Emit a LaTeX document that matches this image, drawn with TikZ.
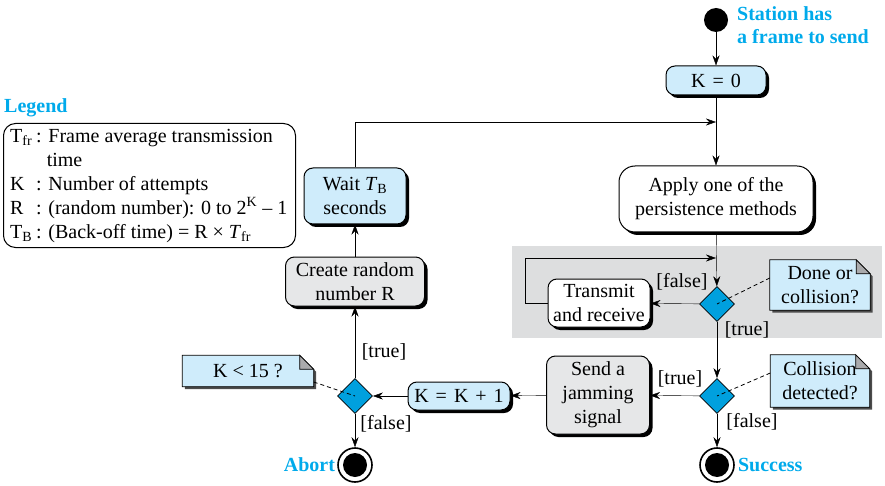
\documentclass[tikz,border=0pt]{standalone}
\usepackage{fontspec}
\setmainfont{Liberation Serif}
\usetikzlibrary{shapes.geometric,shadows,arrows.meta}
\definecolor{cyantext}{RGB}{0,170,235}
\definecolor{lightblue}{RGB}{207,236,251}
\definecolor{boxgrey}{RGB}{230,231,232}
\definecolor{regiongrey}{RGB}{221,222,223}
\definecolor{diamondblue}{RGB}{0,160,222}
\definecolor{foldgrey}{RGB}{170,170,172}
\pgfdeclarelayer{back}
\pgfdeclarelayer{mid}
\pgfsetlayers{back,mid,main}
\newcommand\mynote[1]{%
  \fill[black!70] ([xshift=2.5pt,yshift=-2.5pt]#1.south west) -- ([xshift=2.5pt,yshift=-2.5pt]#1.north west) -- ([xshift=-11.5pt,yshift=-2.5pt]#1.north east) -- ([xshift=2.5pt,yshift=-16.5pt]#1.north east) -- ([xshift=2.5pt,yshift=-2.5pt]#1.south east) -- cycle;
  \draw[fill=lightblue,line width=0.8pt] (#1.south west) -- (#1.north west) -- ([xshift=-14pt]#1.north east) -- ([yshift=-14pt]#1.north east) -- (#1.south east) -- cycle;
  \draw[fill=foldgrey,line width=0.8pt] ([xshift=-14pt]#1.north east) -- ([xshift=-14pt,yshift=-14pt]#1.north east) -- ([yshift=-14pt]#1.north east) -- cycle;
}
\newcommand\opsp{\kern2pt}
\begin{document}
\begin{tikzpicture}[x=1pt,y=-1pt,
  font=\fontsize{20}{24}\selectfont,
  line width=1.1pt,
  >={Stealth[length=10pt,width=7pt]},
  box/.style={draw, line width=1pt, rounded corners=9pt, align=center, inner sep=0pt,
    drop shadow={shadow xshift=3pt,shadow yshift=-3pt,opacity=1,fill=black}},
  bluebox/.style={box, fill=lightblue},
  greybox/.style={box, fill=boxgrey},
  whitebox/.style={box, fill=white},
  decision/.style={diamond, draw, line width=0.8pt, fill=diamondblue, minimum width=35pt, minimum height=35pt, inner sep=0pt},
  notetext/.style={align=center, inner sep=0pt},
  lbl/.style={inner sep=0pt},
  title/.style={font=\fontsize{20}{23}\selectfont\bfseries, text=cyantext, inner sep=0pt, align=left},
  finalring/.style={circle, draw, line width=1.6pt, minimum size=34pt, inner sep=0pt, fill=white},
  notelink/.style={dashed, line width=0.8pt, dash pattern=on 4pt off 3pt}]
\useasboundingbox (0,0) rectangle (885,486);

\begin{pgfonlayer}{back}
  \fill[regiongrey] (512,246) rectangle (882,338);
\end{pgfonlayer}

% start
\node[circle, fill=black, minimum size=24pt, inner sep=0pt] (start) at (716,20) {};
\node[title, anchor=west] (stlabel) at (737,25) {Station has\\a frame to send};

% boxes
\node[bluebox, minimum width=100pt, minimum height=29pt] (k0) at (716,80.5) {K\opsp{} =\opsp{} 0};
\node[whitebox, rounded corners=16pt, minimum width=194pt, minimum height=66pt] (apply) at (716,199) {Apply one of the\\persistence methods};
\node[whitebox, minimum width=102pt, minimum height=48pt] (transmit) at (599,303) {Transmit\\and receive};
\node[greybox, minimum width=103pt, minimum height=78pt] (jam) at (598,395) {Send a\\jamming\\signal};
\node[bluebox, minimum width=102pt, minimum height=28pt] (kk1) at (459,396) {K\opsp{} =\opsp{} K\opsp{} +\opsp{} 1};
\node[greybox, minimum width=139pt, minimum height=49pt] (create) at (355,281.5) {Create random\\number R};
\node[bluebox, minimum width=102pt, minimum height=56pt] (wait) at (355,196) {Wait \textit{T}\textsubscript{B}\\seconds};

% decisions
\node[decision] (d1) at (717,304) {};
\node[decision] (d2) at (717,396) {};
\node[decision] (d3) at (355,396) {};

% final states
\node[finalring] (success) at (717,465) {};
\fill (success.center) circle (12);
\node[finalring] (abort) at (355,465) {};
\fill (abort.center) circle (12);
\node[title, anchor=west] (successlbl) at ([xshift=3pt]success.east) {Success};
\node[title, anchor=east] (abortlbl) at ([xshift=-2pt]abort.west) {Abort};

% notes
\node[notetext, minimum width=100pt, minimum height=50pt] (n1) at (820,285) {Done or\\collision?};
\node[notetext, minimum width=99pt, minimum height=52pt] (n2) at (820,381) {Collision\\detected?};
\node[notetext, minimum width=131pt, minimum height=31pt] (n3) at (248,371) {K < 15 ?};
\begin{pgfonlayer}{mid}
  \mynote{n1}
  \mynote{n2}
  \mynote{n3}
\end{pgfonlayer}
\draw[notelink] ([yshift=7pt]n1.west) -- (d1.center);
\draw[notelink] ([yshift=8pt]n2.west) -- (d2.center);
\draw[notelink] ([yshift=-11pt]n3.east) -- (d3.center);

% legend
\node[title, anchor=west] (legendtitle) at (4,108) {Legend};
\node[draw, line width=1pt, rounded corners=12pt, anchor=north west, minimum width=292pt, minimum height=124pt, inner sep=0pt] (legend) at (3,123) {};
\node[anchor=west, align=left, inner sep=0pt] (legendtext) at (10,186)
{\makebox[1.3em][l]{T\textsubscript{fr}}: Frame average transmission\\
\hspace*{1.3em}\phantom{:} time\\
\makebox[1.3em][l]{K}: Number of attempts\\
\makebox[1.3em][l]{R}: (random number): 0 to 2\textsuperscript{K} – 1\\
\makebox[1.3em][l]{T\textsubscript{B}}: (Back-off time) = R × \textit{T}\textsubscript{fr}};

% connectors
\coordinate (m1) at (716,122);
\coordinate (m2) at (716,258);
\draw[->] (start) -- (k0);
\draw[->] (k0) -- (apply);
\draw[->] (wait.north) |- (m1);
\draw[->] (apply) -- (d1);
\draw[->] (d1) -- (transmit);
\draw[->] (transmit.west) -- ++(-22,0) |- (m2);
\draw[->] (d1) -- (d2);
\draw[->] (d2) -- (jam);
\draw[->] (d2) -- (success);
\draw[->] (jam) -- (kk1);
\draw[->] (kk1) -- (d3);
\draw[->] (d3) -- (create);
\draw[->] (d3) -- (abort);
\draw[->] (create) -- (wait);

% labels
\node[lbl] (l1) at (682,282) {[false]};
\node[lbl] (l2) at (747,330) {[true]};
\node[lbl] (l3) at (680,379) {[true]};
\node[lbl] (l4) at (752,422) {[false]};
\node[lbl] (l5) at (384,352) {[true]};
\node[lbl] (l6) at (386,424) {[false]};
\end{tikzpicture}
\end{document}
